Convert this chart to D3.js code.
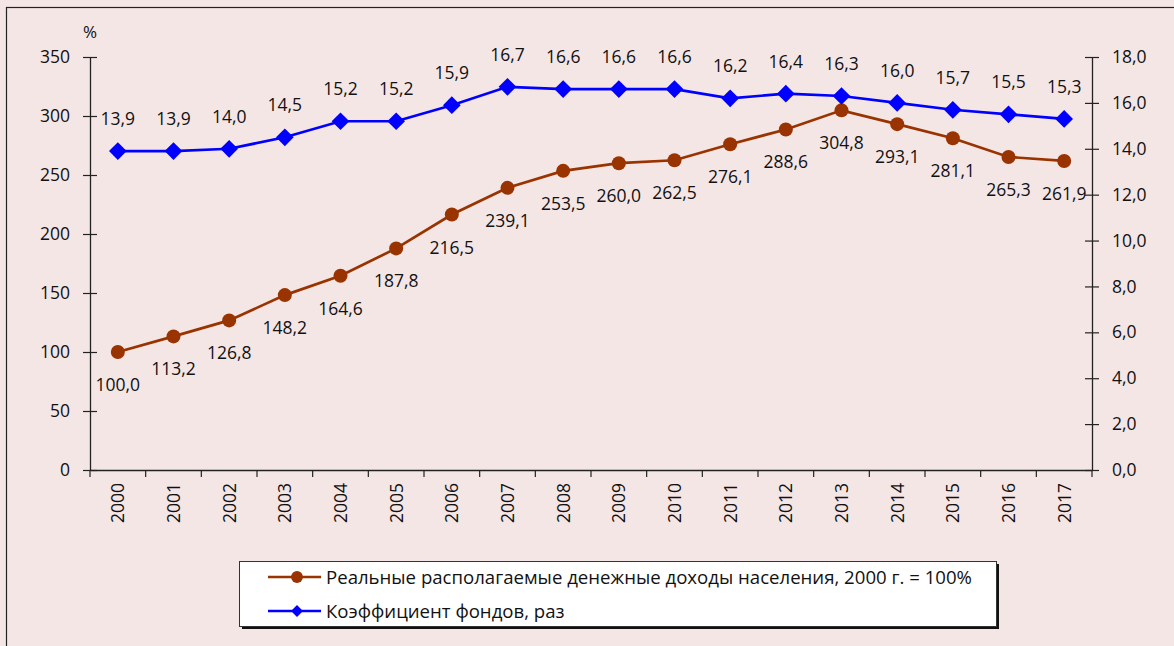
<!DOCTYPE html>
<html>
<head>
<meta charset="utf-8">
<script src="https://cdn.jsdelivr.net/npm/d3@7"></script>
<style>
    body { margin: 0; background: #f5e6e6; }
    svg { display: block; font-family: "Open Sans", sans-serif; }
</style>
</head>
<body>
<div id="chart"></div>
<script>
"use strict";

var years = ["2000", "2001", "2002", "2003", "2004", "2005", "2006", "2007", "2008",
             "2009", "2010", "2011", "2012", "2013", "2014", "2015", "2016", "2017"];
var incomeValues = [100.0, 113.2, 126.8, 148.2, 164.6, 187.8, 216.5, 239.1, 253.5,
                    260.0, 262.5, 276.1, 288.6, 304.8, 293.1, 281.1, 265.3, 261.9];
var ratioValues = [13.9, 13.9, 14.0, 14.5, 15.2, 15.2, 15.9, 16.7, 16.6,
                   16.6, 16.6, 16.2, 16.4, 16.3, 16.0, 15.7, 15.5, 15.3];
var leftTicks = [0, 50, 100, 150, 200, 250, 300, 350];
var rightTicks = [0, 2, 4, 6, 8, 10, 12, 14, 16, 18];
var incomeName = "Реальные располагаемые денежные доходы населения, 2000 г. = 100%";
var ratioName = "Коэффициент фондов, раз";

var width = 1174, height = 646;
var margin = { top: 57, right: 82, bottom: 176, left: 90 };
var plotW = width - margin.left - margin.right;
var plotH = height - margin.top - margin.bottom;

var brown = "#993300", blue = "#0000ff";
var FS = 17.5;
var fmt = function(v) { return d3.format(".1f")(v).replace(".", ","); };

var svg = d3.select("#chart").append("svg")
    .attr("width", width)
    .attr("height", height);

svg.append("rect")
    .attr("x", 6.5).attr("y", 7.5)
    .attr("width", 1300).attr("height", 800)
    .attr("fill", "#f5e6e6")
    .attr("stroke", "#222").attr("stroke-width", 1.2);

var g = svg.append("g")
    .attr("transform", "translate(" + margin.left + "," + margin.top + ")");

var x = d3.scaleBand().domain(years).range([0, plotW]);
var yL = d3.scaleLinear().domain([0, 350]).range([plotH, 0]);
var yR = d3.scaleLinear().domain([0, 18]).range([plotH, 0]);
var cx = function(d, i) { return x(years[i]) + x.bandwidth() / 2; };

// axes
var xAxis = g.append("g")
    .attr("transform", "translate(0," + plotH + ")")
    .call(d3.axisBottom(x).tickSize(0).tickFormat(""));
xAxis.select(".domain").attr("stroke", "#222").attr("stroke-width", 1.3);
// tick marks sit at band boundaries
g.append("g").selectAll("line")
    .data(d3.range(years.length + 1))
    .enter().append("line")
    .attr("x1", function(i) { return i * x.step(); })
    .attr("x2", function(i) { return i * x.step(); })
    .attr("y1", plotH).attr("y2", plotH + 7)
    .attr("stroke", "#222").attr("stroke-width", 1.2);

g.append("g").selectAll("text")
    .data(years)
    .enter().append("text")
    .attr("transform", function(d) {
        return "translate(" + (x(d) + x.bandwidth() / 2 + 6.5) + "," + (plotH + 13) + ") rotate(-90)";
    })
    .attr("text-anchor", "end")
    .attr("font-size", FS)
    .attr("fill", "#111")
    .text(function(d) { return d; });

var leftAxis = g.append("g")
    .call(d3.axisLeft(yL).tickValues(leftTicks).tickSizeInner(0).tickSizeOuter(0).tickPadding(20));
leftAxis.select(".domain").attr("stroke", "#222").attr("stroke-width", 1.3);
leftAxis.selectAll(".tick text").attr("font-size", FS).attr("fill", "#111").attr("font-family", "Open Sans, sans-serif");
leftAxis.selectAll(".tick").append("line")
    .attr("x1", -7).attr("x2", 7).attr("stroke", "#222").attr("stroke-width", 1.2);

var rightAxis = g.append("g")
    .attr("transform", "translate(" + plotW + ",0)")
    .call(d3.axisRight(yR).tickValues(rightTicks).tickSizeInner(0).tickSizeOuter(0).tickPadding(20).tickFormat(fmt));
rightAxis.select(".domain").attr("stroke", "#222").attr("stroke-width", 1.3);
rightAxis.selectAll(".tick text").attr("font-size", FS).attr("fill", "#111").attr("font-family", "Open Sans, sans-serif");
rightAxis.selectAll(".tick").append("line")
    .attr("x1", -7).attr("x2", 7).attr("stroke", "#222").attr("stroke-width", 1.2);

g.append("text")
    .attr("x", 0).attr("y", -19)
    .attr("text-anchor", "middle")
    .attr("font-size", 17)
    .attr("fill", "#111")
    .text("%");

// income series
g.append("path")
    .datum(incomeValues)
    .attr("fill", "none")
    .attr("stroke", brown)
    .attr("stroke-width", 2.7)
    .attr("d", d3.line().x(cx).y(function(d) { return yL(d); }));

g.append("g").selectAll("circle")
    .data(incomeValues)
    .enter().append("circle")
    .attr("cx", cx)
    .attr("cy", function(d) { return yL(d); })
    .attr("r", 7)
    .attr("fill", brown);

g.append("g").selectAll("text")
    .data(incomeValues)
    .enter().append("text")
    .attr("x", cx)
    .attr("y", function(d) { return yL(d) + 39; })
    .attr("text-anchor", "middle")
    .attr("font-size", FS)
    .attr("fill", "#111")
    .text(fmt);

// ratio series
g.append("path")
    .datum(ratioValues)
    .attr("fill", "none")
    .attr("stroke", blue)
    .attr("stroke-width", 2.7)
    .attr("d", d3.line().x(cx).y(function(d) { return yR(d); }));

g.append("g").selectAll("path")
    .data(ratioValues)
    .enter().append("path")
    .attr("transform", function(d, i) { return "translate(" + cx(d, i) + "," + yR(d) + ")"; })
    .attr("d", d3.symbol().type(d3.symbolDiamond2).size(200))
    .attr("fill", blue);

g.append("g").selectAll("text")
    .data(ratioValues)
    .enter().append("text")
    .attr("x", cx)
    .attr("y", function(d) { return yR(d) - 26; })
    .attr("text-anchor", "middle")
    .attr("font-size", FS)
    .attr("fill", "#111")
    .text(fmt);

// legend
var legend = svg.append("g").attr("transform", "translate(239,561)");
legend.append("rect")
    .attr("x", 3).attr("y", 3).attr("width", 757).attr("height", 65)
    .attr("fill", "#111");
legend.append("rect")
    .attr("x", 0.5).attr("y", 0.5).attr("width", 757).attr("height", 65)
    .attr("fill", "#fff").attr("stroke", "#333");

var items = [
    { name: incomeName, color: brown, marker: d3.symbolCircle, size: 110 },
    { name: ratioName, color: blue, marker: d3.symbolDiamond2, size: 90 }
];
var row = legend.selectAll(".row")
    .data(items)
    .enter().append("g")
    .attr("transform", function(d, i) { return "translate(0," + (16 + i * 34) + ")"; });
row.append("line")
    .attr("x1", 29).attr("x2", 82)
    .attr("stroke", function(d) { return d.color; })
    .attr("stroke-width", 2.5);
row.append("path")
    .attr("transform", "translate(58,0)")
    .attr("d", function(d) { return d3.symbol().type(d.marker).size(d.size)(); })
    .attr("fill", function(d) { return d.color; });
row.append("text")
    .attr("x", 87).attr("y", 6.5)
    .attr("font-size", 18.6)
    .attr("fill", "#111")
    .text(function(d) { return d.name; });
</script>
</body>
</html>
